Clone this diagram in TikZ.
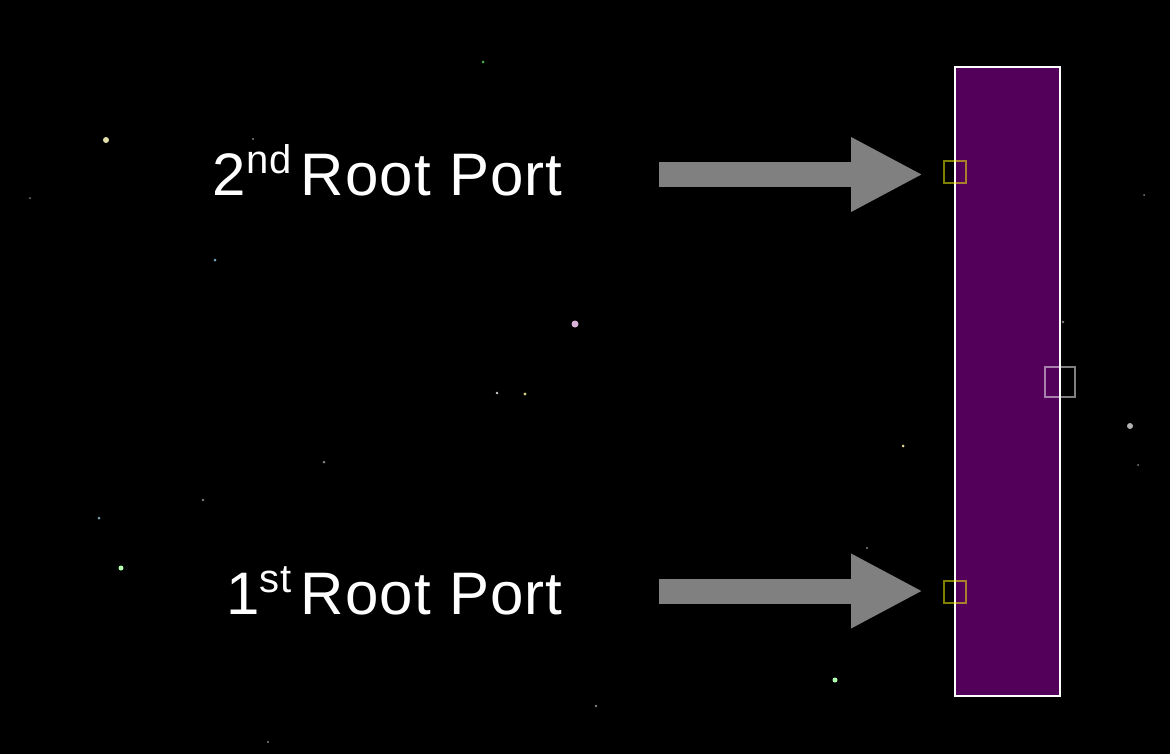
\documentclass[tikz,border=0pt]{standalone}
\usepackage{fontspec}
\setmainfont{Liberation Sans}
\newfontfamily\portfont[LetterSpace=2]{Liberation Sans}
\definecolor{bridge}{RGB}{82, 0, 90}
\definecolor{shaft}{RGB}{128, 128, 128}
\definecolor{portline}{RGB}{255, 255, 0}
\usepackage{tikz}
\usetikzlibrary{arrows.meta}

\begin{document}
\begin{tikzpicture}[x=0.75pt, y=-0.75pt,
    label/.style={text=white, font=\portfont\fontsize{45}{50}\selectfont, inner sep=0pt, anchor=base east},
    portarrow/.style={draw=shaft, line width=18.75pt, -{Triangle[length=54pt, width=52pt, fill=shaft]}},
    port/.style={draw=portline, draw opacity=0.5, line width=1.1pt, minimum size=16.5pt, inner sep=0pt},
    star/.style={fill=#1, draw=none}]
    % Night sky
    \fill[black] (0,0) rectangle (1170,754);
    \useasboundingbox (0,0) rectangle (1170,754);
    \foreach \x/\y/\r/\c in {106/140/3/white!75!olive, 253/139/1.2/gray, 215/260/1.5/cyan!40!gray,
        575/324/3.5/violet!30!white, 483/62/1.5/green!40!gray, 497/393/1.3/white!60!gray,
        525/394/1.6/olive!40!white, 324/462/1.5/gray, 203/500/1.3/gray, 99/518/1.5/cyan!30!gray,
        121/568/2.5/green!30!white, 903/446/1.5/olive!30!white, 1130/426/3/gray!60!white,
        835/680/2.5/green!30!white, 596/706/1.3/gray, 268/742/1.2/gray, 867/548/1.2/gray,
        1063/322/1.3/gray, 1144/195/1/gray, 1138/465/1/gray, 30/198/1/gray}
        \fill[star=\c] (\x,\y) circle (\r);

    % Switch body
    \node[draw=white, line width=1.5pt, fill=bridge, minimum width=78.75pt, minimum height=471.75pt,
        inner sep=0pt] (bridge) at (1007.5,381.5) {};

    % Ports on the switch
    \node[port] (port2) at (955,172) {};
    \node[port] (port1) at (955,592) {};
    \node[draw=white, draw opacity=0.5, line width=1.1pt, minimum size=22.5pt, inner sep=0pt] (up) at (1060,382) {};

    % Labels
    \node[label] (root2) at (563,195) {2\raisebox{16.5pt}{\fontsize{30}{33}\selectfont nd}\hspace{7pt}Root Port};
    \node[label] (root1) at (563,614) {1\raisebox{16.5pt}{\fontsize{30}{33}\selectfont st}\hspace{7pt}Root Port};

    % Arrows from the labels to the ports
    \coordinate (s2) at (659,174.5);
    \coordinate (t2) at (923,174.5);
    \coordinate (s1) at (659,591);
    \coordinate (t1) at (923,591);
    \draw[portarrow] (s2) -- (t2);
    \draw[portarrow] (s1) -- (t1);
\end{tikzpicture}
\end{document}
